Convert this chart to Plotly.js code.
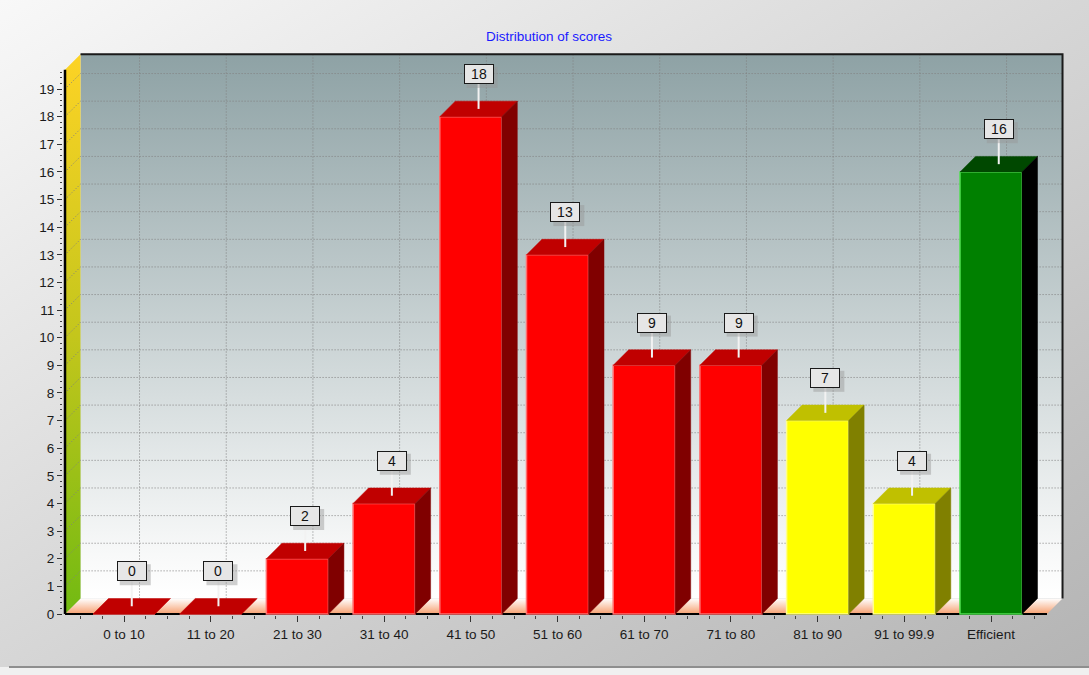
<!DOCTYPE html>
<html><head><meta charset="utf-8">
<script src="https://cdn.plot.ly/plotly-3.0.1.min.js"></script>
<style>
html,body{margin:0;padding:0;background:#f0f0f0;}
#wrap{position:relative;width:1089px;height:675px;background:#f0f0f0;overflow:hidden;}
#bg{position:absolute;left:0;top:0;width:1089px;height:667px;background:linear-gradient(to bottom right,#f8f8f8,#b4b4b4);}
#rule{position:absolute;left:9px;top:666px;width:1080px;height:2px;background:#8e8e8e;}
#chart{position:absolute;left:0;top:0;width:1089px;height:675px;}
</style></head><body>
<div id="wrap"><div id="bg"></div><div id="rule"></div><div id="chart"></div></div>
<script>
// ---- data ----
const categories = ['0 to 10','11 to 20','21 to 30','31 to 40','41 to 50','51 to 60','61 to 70','71 to 80','81 to 90','91 to 99.9','Efficient'];
const scores = [0, 0, 2, 4, 18, 13, 9, 9, 7, 4, 16];
const yTickValues = [0,1,2,3,4,5,6,7,8,9,10,11,12,13,14,15,16,17,18,19];
const chartTitle = 'Distribution of scores';

// ---- style ----
const colorGroup = ['red','red','red','red','red','red','red','red','yellow','yellow','green'];
const palette = {
  red:    {front:'#ff0000', edge:'#ff7070', top:'#c00000', side:'#800000'},
  yellow: {front:'#ffff00', edge:'#ffff90', top:'#c0c000', side:'#808000'},
  green:  {front:'#008000', edge:'#50e050', top:'#004800', side:'#000000'}
};
const FONT = 'Liberation Sans, Arial, sans-serif';

// ---- pseudo-3D geometry (axis units) ----
const W = 0.715, DX = 0.179, DY = 0.561;
const XL = -0.6805, XR = 10.646, YTOP = 19.7;
const XRANGE = [-0.7036, 10.8651], YRANGE = [-0.036, 20.304];
const PX_PER_UNIT = 27.63;

const traces = [];
const base = {type:'scatter', mode:'lines', hoverinfo:'skip', showlegend:false, xaxis:'x', yaxis:'y'};

// back wall
traces.push(Object.assign({}, base, {
  x:[XL+DX, XR+DX, XR+DX, XL+DX, XL+DX], y:[DY, DY, YTOP+DY, YTOP+DY, DY],
  fill:'toself', line:{width:0},
  fillgradient:{type:'vertical', colorscale:[[0,'#ffffff'],[0.08,'#f8f9f9'],[1,'#8ea2a5']]}
}));
// floor
traces.push(Object.assign({}, base, {
  x:[XL, XR, XR+DX, XL+DX, XL], y:[0, 0, DY, DY, 0],
  fill:'toself', line:{width:0},
  fillgradient:{type:'vertical', colorscale:[[0,'#f6a070'],[1,'#ffffff']]}
}));
// side wall
traces.push(Object.assign({}, base, {
  x:[XL, XL+DX, XL+DX, XL, XL], y:[0, DY, YTOP+DY, YTOP, 0],
  fill:'toself', line:{width:0},
  fillgradient:{type:'vertical', colorscale:[[0,'#72ba12'],[0.5,'#c4c61c'],[1,'#fdd325']]}
}));
// grid lines (back wall + side wall diagonals)
const gx = [], gy = [];
yTickValues.filter(v => v > 0).forEach(v => {
  gx.push(XL, XL+DX, XR+DX, null); gy.push(v, v+DY, v+DY, null);
});
categories.forEach((c, i) => { gx.push(i+DX, i+DX, null); gy.push(DY, YTOP+DY, null); });
traces.push(Object.assign({}, base, {x:gx, y:gy, line:{color:'#808080', width:1, dash:'1px,2px'}}));
// back wall border
traces.push(Object.assign({}, base, {
  x:[XL+DX, XR+DX, XR+DX], y:[YTOP+DY, YTOP+DY, DY], line:{color:'#1a1a1a', width:2}
}));
// axis lines
traces.push(Object.assign({}, base, {x:[XL, XR], y:[0, 0], line:{color:'#000000', width:2}}));
traces.push(Object.assign({}, base, {x:[XL, XL], y:[0, YTOP], line:{color:'#000000', width:2.5}}));

// ---- bars (overlay subplot so they sit above the walls) ----
const idx = categories.map((c, i) => i);
traces.push({
  type:'bar', x:idx, y:scores, width:W, xaxis:'x2', yaxis:'y2',
  marker:{color:colorGroup.map(g => palette[g].front), line:{color:colorGroup.map(g => palette[g].edge), width:1.5}},
  hoverinfo:'skip', showlegend:false
});
const over = {type:'scatter', mode:'lines', hoverinfo:'skip', showlegend:false, xaxis:'x2', yaxis:'y2'};
scores.forEach((v, i) => {
  const p = palette[colorGroup[i]];
  const l = i - W/2, r = i + W/2;
  // top face
  traces.push(Object.assign({}, over, {
    x:[l, r, r+DX, l+DX, l], y:[v, v, v+DY, v+DY, v],
    fill:'toself', fillcolor:p.top, line:{color:p.top, width:0.5}
  }));
  // side face
  if (v > 0) traces.push(Object.assign({}, over, {
    x:[r, r+DX, r+DX, r, r], y:[0, DY, v+DY, v, 0],
    fill:'toself', fillcolor:p.side, line:{color:p.side, width:0.5}
  }));
});
// label stems
const sx = [], sy = [];
scores.forEach((v, i) => { sx.push(i+DX/2, i+DX/2, null); sy.push(v+DY/2, v+DY/2+25/PX_PER_UNIT, null); });
traces.push(Object.assign({}, over, {x:sx, y:sy, line:{color:'#f2f2f2', width:2}}));

// ---- value labels (box + drop shadow) ----
const annotations = [];
const shapes = [];
scores.forEach((v, i) => {
  const lx = i + DX/2, ly = v + DY/2 + 35/PX_PER_UNIT;
  shapes.push({type:'rect', layer:'above', xref:'x', yref:'y',
    xsizemode:'pixel', ysizemode:'pixel', xanchor:lx, yanchor:ly,
    x0:-12, x1:19, y0:-14, y1:7, fillcolor:'rgba(150,150,150,0.45)', line:{width:0}});
  annotations.push({x:lx, y:ly, xref:'x', yref:'y', text:String(v), showarrow:false,
    font:{family:FONT, size:14, color:'#111111'}, width:26, height:16, borderpad:1,
    bgcolor:'#e6e6e6', bordercolor:'#1a1a1a', borderwidth:1});
});

const minorX = [];
for (let t = -0.5; t <= categories.length - 0.5 + 1e-9; t += 0.25) minorX.push(t);
const minorY = [];
for (let t = 0; t <= YTOP + 1e-9; t += 0.2) minorY.push(+t.toFixed(2));

const layout = {
  width:1089, height:675,
  margin:{l:63, r:23, t:53, b:60},
  paper_bgcolor:'rgba(0,0,0,0)', plot_bgcolor:'rgba(0,0,0,0)',
  title:{text:chartTitle, font:{family:FONT, size:13.5, color:'#1a1aff'}, x:549/1089, xref:'container', xanchor:'center', y:1-36/675, yref:'container', yanchor:'middle'},
  showlegend:false, hovermode:false,
  xaxis:{range:XRANGE, tickmode:'array', tickvals:idx, ticktext:categories, showgrid:false, zeroline:false, showline:false,
    ticks:'outside', ticklen:6, tickcolor:'#333333', tickwidth:1, ticklabelstandoff:1,
    tickfont:{family:FONT, size:13.5, color:'#1a1a1a'},
    minor:{tickmode:'array', tickvals:minorX, ticks:'outside', ticklen:3, tickcolor:'#444444', showgrid:false}},
  yaxis:{range:YRANGE, tickmode:'array', tickvals:yTickValues, showgrid:false, zeroline:false, showline:false,
    ticks:'outside', ticklen:5, tickcolor:'#333333', tickwidth:1,
    tickfont:{family:FONT, size:13.5, color:'#1a1a1a'},
    minor:{tickmode:'array', tickvals:minorY, ticks:'outside', ticklen:2, tickcolor:'#444444', showgrid:false}},
  xaxis2:{range:XRANGE, overlaying:'x', anchor:'y2', visible:false},
  yaxis2:{range:YRANGE, overlaying:'y', anchor:'x2', visible:false},
  shapes:shapes,
  annotations:annotations
};
Plotly.newPlot('chart', traces, layout, {staticPlot:true, displayModeBar:false});
</script>
</body></html>
